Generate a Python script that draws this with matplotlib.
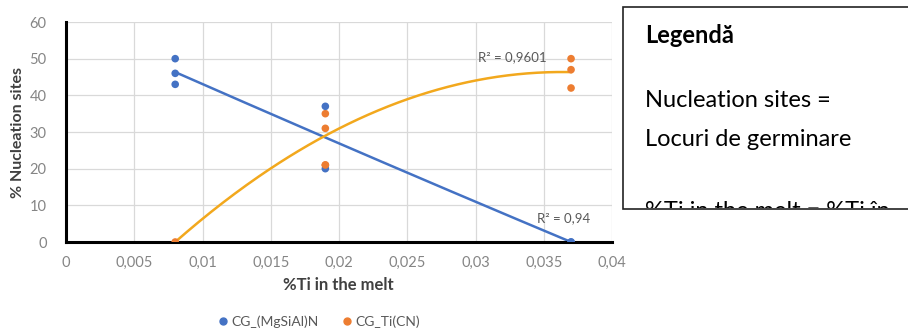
import numpy as np
import matplotlib
matplotlib.use("Agg")
import matplotlib.pyplot as plt
from matplotlib.patches import Rectangle
from matplotlib.lines import Line2D
from matplotlib.transforms import Bbox, TransformedBbox

plt.rcParams['font.family'] = ['Lato', 'DejaVu Sans']

# Data
x_mgsial = [0.008, 0.008, 0.008, 0.019, 0.019, 0.037]
y_mgsial = [50, 46, 43, 37, 20, 0]
x_ticn = [0.008, 0.019, 0.019, 0.019, 0.037, 0.037, 0.037]
y_ticn = [0, 35, 31, 21, 50, 47, 42]
r2_mgsial = "R² = 0,94"
r2_ticn = "R² = 0,9601"
xticks = [0, 0.005, 0.01, 0.015, 0.02, 0.025, 0.03, 0.035, 0.04]
xtick_labels = ["0", "0,005", "0,01", "0,015", "0,02", "0,025", "0,03", "0,035", "0,04"]
yticks = [0, 10, 20, 30, 40, 50, 60]
series_names = ["CG_(MgSiAl)N", "CG_Ti(CN)"]

BLUE = "#4472C4"
ORANGE = "#ED7D31"
GOLD = "#F2A81D"
TICKC = "#858585"

fig = plt.figure(figsize=(9.08, 3.34), dpi=100)
ax = fig.add_axes([66/908, 1-242/334, (612-66)/908, (242-22)/334])

ax.set_xlim(0, 0.04)
ax.set_ylim(0, 60)
ax.set_xticks(xticks)
ax.set_xticklabels(xtick_labels)
ax.set_yticks(yticks)
ax.grid(True, color="#D9D9D9", linewidth=0.9)
ax.set_axisbelow(True)
for s in ["top", "right"]:
    ax.spines[s].set_visible(False)
for s in ["left", "bottom"]:
    ax.spines[s].set_color("black")
    ax.spines[s].set_linewidth(2.2)
ax.tick_params(axis="both", length=0, colors=TICKC, labelsize=10.5)
ax.tick_params(axis="x", pad=10)
ax.tick_params(axis="y", pad=14)

# trend lines (quadratic fit)
for xs, ys, c in [(x_mgsial, y_mgsial, BLUE), (x_ticn, y_ticn, GOLD)]:
    p = np.polyfit(xs, ys, 2)
    xx = np.linspace(min(xs), max(xs), 200)
    ax.plot(xx, np.polyval(p, xx), color=c, linewidth=1.8, zorder=2)

ax.scatter(x_ticn, y_ticn, s=30, color=ORANGE, zorder=3, edgecolors="none")
ax.scatter(x_mgsial, y_mgsial, s=30, color=BLUE, zorder=4, edgecolors="none")
ax.scatter(x_ticn[3:4], y_ticn[3:4], s=30, color=ORANGE, zorder=5, edgecolors="none")
ax.scatter(x_mgsial[5:], y_mgsial[5:], s=30, color=BLUE, zorder=5, edgecolors="none")

ax.text(0.0302, 50.3, r2_ticn, fontsize=9.5, color="#595959", ha="left", va="center")
ax.text(0.0345, 6.6, r2_mgsial, fontsize=9.5, color="#595959", ha="left", va="center")

fig.text(338/908, 1-285/334, "%Ti in the melt", fontsize=12, fontweight="bold",
         color="#404040", ha="center", va="center")
fig.text(18/908, 1-132/334, "% Nucleation sites", fontsize=11.5, fontweight="bold",
         color="#404040", ha="center", va="center", rotation=90)

handles = [Line2D([], [], marker="o", linestyle="none", color=BLUE, markersize=5),
           Line2D([], [], marker="o", linestyle="none", color=ORANGE, markersize=5)]
leg = fig.legend(handles, series_names, loc="center", bbox_to_anchor=(318/908, 1-322/334),
                 ncol=2, frameon=False, fontsize=10, handletextpad=0.1, columnspacing=1.6,
                 handlelength=1.0)
for t in leg.get_texts():
    t.set_color("#595959")

# Text box on the right
bx0, by0, by1 = 623/908, 1-209/334, 1-7/334
rect = Rectangle((bx0, by0), 1.05 - bx0, by1 - by0, transform=fig.transFigure,
                 facecolor="white", edgecolor="#222222", linewidth=1.2, clip_on=False)
fig.add_artist(rect)
clipbox = TransformedBbox(Bbox([[bx0, by0 + 0.004], [1.0, by1]]), fig.transFigure)
lines = [("Legendă", 1-43/334, "bold"),
         ("Nucleation sites =", 1-107/334, "normal"),
         ("Locuri de germinare", 1-146/334, "normal"),
         ("%Ti in the melt = %Ti în", 1-218/334, "normal")]
for s, yy, w in lines:
    t = fig.text(645/908, yy, s, fontsize=17, fontweight=w, color="black",
                 ha="left", va="baseline")
    t.set_clip_box(clipbox)
    t.set_clip_on(True)

fig.savefig("out.png", dpi=100)
